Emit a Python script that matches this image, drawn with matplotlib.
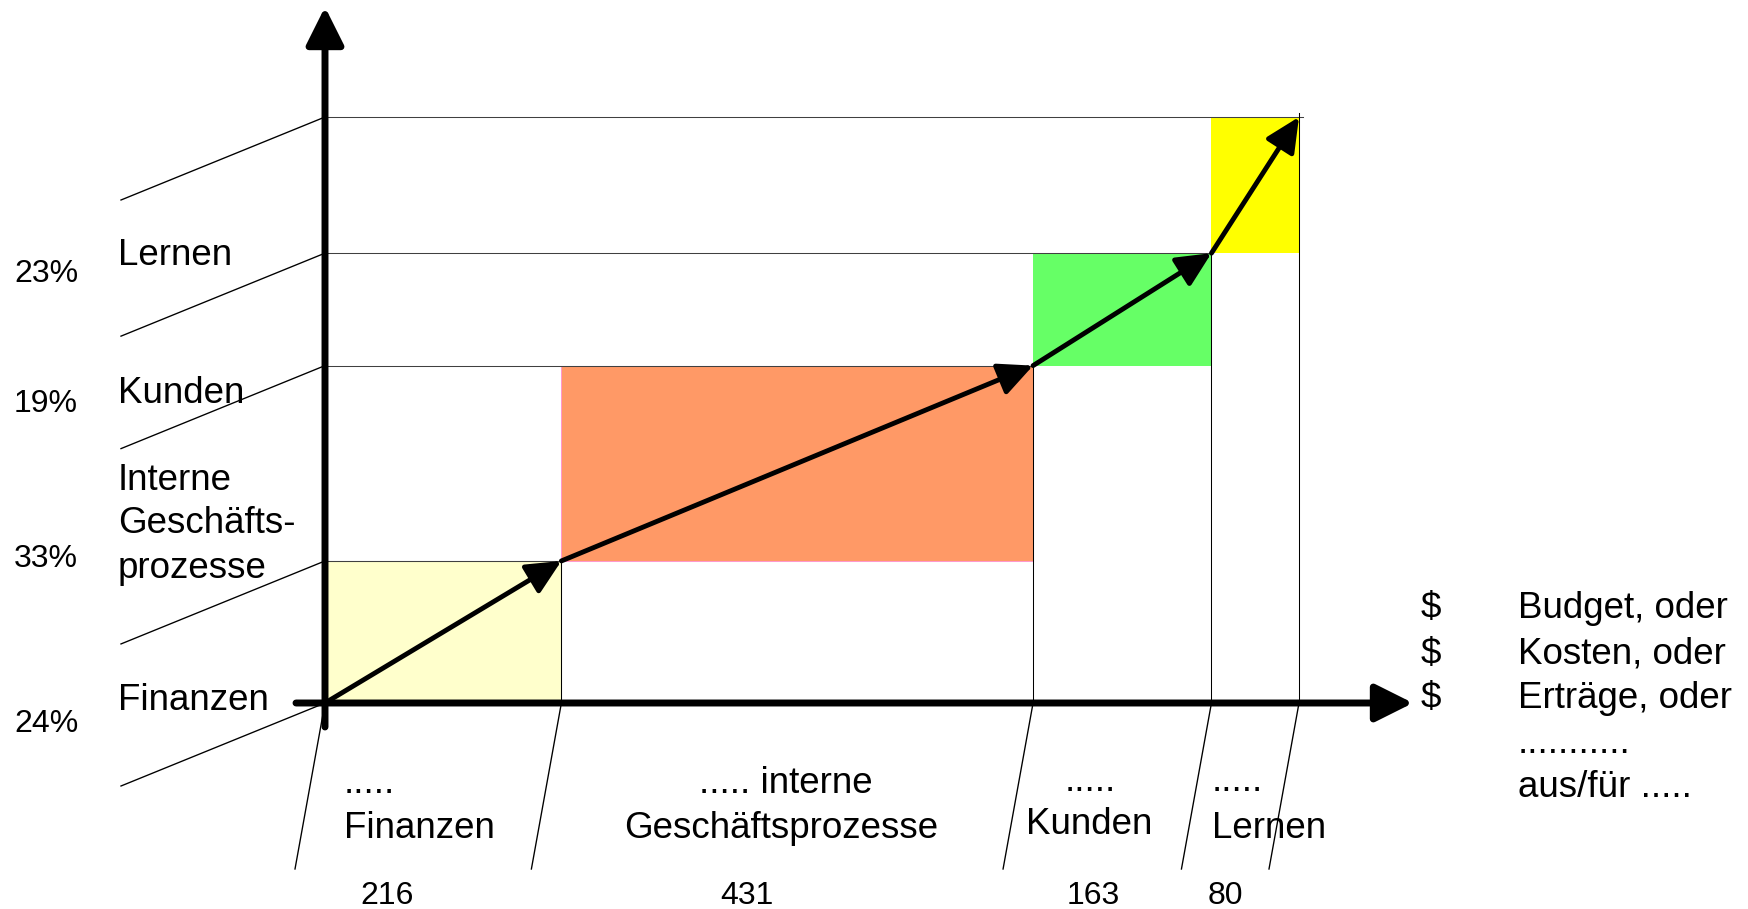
import matplotlib.pyplot as plt
from matplotlib.patches import Rectangle, FancyArrowPatch

plt.rcParams['font.family'] = ['Liberation Sans', 'DejaVu Sans']

# perspectives, share of budget (%) and amount per perspective
perspectives = ['Finanzen', 'Interne Geschäftsprozesse', 'Kunden', 'Lernen']
shares = [24, 33, 19, 23]
amounts = [216, 431, 163, 80]
box_colors = ['#FFFFCC', '#FF9966', '#66FF66', '#FFFF00']
box_edges = ['#404040', '#FF99CC', 'none', 'none']

left_labels = ['Finanzen', 'Interne\nGeschäfts-\nprozesse', 'Kunden', 'Lernen']
bottom_labels = ['.....\nFinanzen', '..... interne\nGeschäftsprozesse',
                 '.....\nKunden', '.....\nLernen']
right_signs = ['$', '$', '$', '', '']
right_lines = ['Budget, oder', 'Kosten, oder', 'Erträge, oder', '...........', 'aus/für .....']

# cumulative corners of the staircase
x0, y0 = [0], [0]
for a, s in zip(amounts, shares):
    x0.append(x0[-1] + a)
    y0.append(y0[-1] + s)
x1, y1 = x0[1:], y0[1:]
x0, y0 = x0[:-1], y0[:-1]

# pixel layout of the picture
W, H = 1748, 909
ox, oy = 325, 703                 # origin in pixels
sx = (1299 - ox) / x1[-1]         # px per amount unit
sy = (oy - 117) / y1[-1]          # px per percent


def P(px, py):
    """pixel position -> data position"""
    return (px - ox) / sx, (oy - py) / sy


fig = plt.figure(figsize=(W / 100, H / 100), dpi=100)
ax = fig.add_axes([0, 0, 1, 1])
ax.set_xlim(-ox / sx, (W - ox) / sx)
ax.set_ylim(-(H - oy) / sy, oy / sy)
ax.axis('off')

thin = 0.75
grey = '#404040'

# coloured boxes
for i in range(len(amounts)):
    ax.add_patch(Rectangle((x0[i], y0[i]), amounts[i], shares[i],
                           facecolor=box_colors[i], edgecolor=box_edges[i],
                           lw=thin, zorder=1))

# helper lines: horizontal at each box top, vertical at each box right side
for i in range(len(amounts)):
    xend = x1[i] + (4 / sx if i == len(amounts) - 1 else 0)
    ax.plot([0, xend], [y1[i], y1[i]], color=grey, lw=thin, zorder=2)
    ytop = y1[i] + (4 / sy if i == len(amounts) - 1 else 0)
    ax.plot([x1[i], x1[i]], [0, ytop], color='black', lw=thin, zorder=2)

# slanted leader lines to the left and below
for yv in [0] + y1:
    ax.plot([0, -204 / sx], [yv, yv - 83 / sy], color='black', lw=thin * 1.3, zorder=2)
for xv in [0] + x1:
    ax.plot([xv, xv - 30 / sx], [0, -166 / sy], color='black', lw=thin * 1.3, zorder=2)

# main axes with arrow heads
ax.add_patch(FancyArrowPatch(P(325, 727), P(325, 7),
                             arrowstyle='-|>,head_length=23,head_width=11.5',
                             mutation_scale=1, lw=5, color='black',
                             shrinkA=0, shrinkB=0, zorder=5))
ax.add_patch(FancyArrowPatch(P(296, 703), P(1413, 703),
                             arrowstyle='-|>,head_length=23,head_width=11.5',
                             mutation_scale=1, lw=5, color='black',
                             shrinkA=0, shrinkB=0, zorder=5))

# staircase arrows through the box corners
for i in range(len(amounts)):
    ax.add_patch(FancyArrowPatch((x0[i], y0[i]), (x1[i], y1[i]),
                                 arrowstyle='-|>,head_length=21,head_width=10',
                                 mutation_scale=1, lw=3.5, color='black',
                                 shrinkA=0, shrinkB=0, zorder=6))

big, small = 26.5, 23

# left side: perspective names and shares
left_pos = [(118, [710]), (118, [490, 533, 578]), (118, [403]), (118, [265])]
pct_pos = [732, 567, 412, 282]
for i in range(len(shares)):
    px, bases = left_pos[i]
    for line, b in zip(left_labels[i].split('\n'), bases):
        ax.text(*P(px, b), line, fontsize=big, ha='left', va='baseline')
    ax.text(*P(14, pct_pos[i]), f'{shares[i]}%', fontsize=small,
            ha='left', va='baseline')

# bottom: perspective names and amounts
bottom_pos = [[(344, 793), (344, 838)],
              [(699, 793), (624, 838)],
              [(1065, 791), (1026, 834)],
              [(1212, 791), (1212, 838)]]
num_x = [360, 720, 1067, 1208]
for i in range(len(amounts)):
    for line, (px, py) in zip(bottom_labels[i].split('\n'), bottom_pos[i]):
        ax.text(*P(px, py), line, fontsize=big, ha='left', va='baseline')
    ax.text(*P(num_x[i], 904), str(amounts[i]), fontsize=small,
            ha='left', va='baseline')

# right side explanation
right_base = [618, 664, 708, 753, 797]
for sign, line, b in zip(right_signs, right_lines, right_base):
    if sign:
        ax.text(*P(1421, b), sign, fontsize=big, ha='left', va='baseline')
    ax.text(*P(1518, b), line, fontsize=big, ha='left', va='baseline')

fig.savefig('out.png', dpi=100)
